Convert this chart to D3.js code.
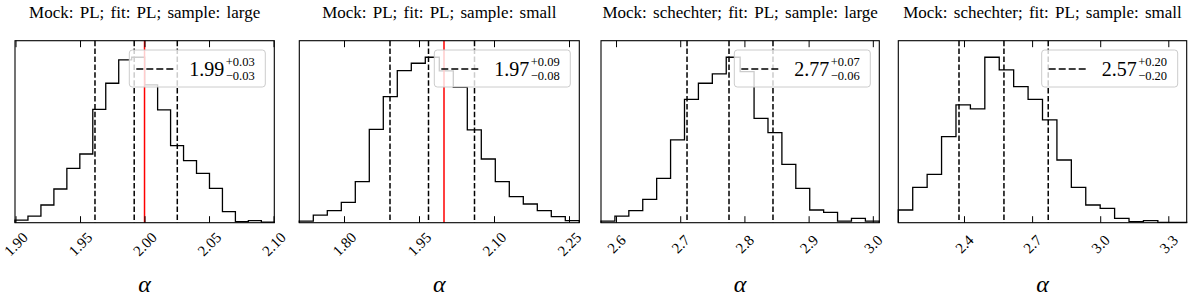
<!DOCTYPE html>
<html>
<head>
<meta charset="utf-8">
<script src="https://cdn.jsdelivr.net/npm/d3@7"></script>
<style>
  html, body { margin: 0; padding: 0; background: #fff; }
  svg { display: block; font-family: 'Liberation Serif', 'Times New Roman', serif; }
</style>
</head>
<body>
<div id="chart"></div>
<script>
// ---- data ----
const titles = [
  'Mock: PL; fit: PL; sample: large',
  'Mock: PL; fit: PL; sample: small',
  'Mock: schechter; fit: PL; sample: large',
  'Mock: schechter; fit: PL; sample: small'
];
// histogram range (20 bins each)
const ranges = [[1.8996, 2.1006], [1.7106, 2.2706], [2.5766, 3.0101], [2.1106, 3.381]];
const countsPLLarge = [8, 20, 53, 101, 163, 206, 340, 418, 488, 496, 413, 338, 231, 186, 148, 103, 33, 3, 6, 2];
const countsPLSmall = [5, 23, 36, 61, 123, 280, 378, 456, 478, 496, 455, 406, 278, 191, 123, 78, 56, 36, 18, 6];
const countsSchLarge = [5, 20, 36, 70, 133, 248, 370, 418, 446, 496, 453, 313, 270, 175, 103, 38, 31, 5, 13, 5];
const countsSchSmall = [38, 106, 145, 258, 353, 341, 496, 458, 408, 370, 308, 188, 106, 53, 43, 13, 3, 6, 1, 1];
const counts = [countsPLLarge, countsPLSmall, countsSchLarge, countsSchSmall];
// 16th / 50th / 84th percentiles
const q16 = [1.9616, 1.892, 2.7106, 2.378];
const q50 = [1.992, 1.969, 2.776, 2.576];
const q84 = [2.0254, 2.061, 2.8445, 2.771];
const truths = [2.0, 2.0, null, null];
const legendMain = ['1.99', '1.97', '2.77', '2.57'];
const legendUp = ['+0.03', '+0.09', '+0.07', '+0.20'];
const legendDown = ['\u22120.03', '\u22120.08', '\u22120.06', '\u22120.20'];
const tickValues = [
  [1.90, 1.95, 2.00, 2.05, 2.10],
  [1.80, 1.95, 2.10, 2.25],
  [2.6, 2.7, 2.8, 2.9, 3.0],
  [2.4, 2.7, 3.0, 3.3]
];
const tickFormats = ['.2f', '.2f', '.1f', '.1f'];

// ---- layout ----
const W = 1200, H = 304;
const boxes = [[15, 274.3], [299.3, 579.3], [601, 879.3], [898.3, 1186.7]];
const plotTop = 40.7, plotBottom = 222.7;
const tickLen = 6.5;

const svg = d3.select('#chart').append('svg')
  .attr('width', W).attr('height', H);

boxes.forEach((b, p) => {
  const [x0, x1] = b;
  const cx = (x0 + x1) / 2;
  const x = d3.scaleLinear().domain(ranges[p]).range([x0, x1]);
  const ymax = 1.1 * d3.max(counts[p]);
  const y = d3.scaleLinear().domain([0, ymax]).range([plotBottom, plotTop]);

  const g = svg.append('g').attr('class', 'panel');

  // step histogram
  const [lo, hi] = ranges[p];
  const n = counts[p].length;
  const edges = d3.range(n + 1).map(i => lo + i * (hi - lo) / n);
  const pts = [[edges[0], 0]];
  counts[p].forEach((c, i) => { pts.push([edges[i], c]); pts.push([edges[i + 1], c]); });
  pts.push([edges[n], 0]);
  g.append('path')
    .attr('d', d3.line().x(d => x(d[0])).y(d => y(d[1]))(pts))
    .attr('fill', 'none').attr('stroke', '#000').attr('stroke-width', 1.3);

  // quantile lines
  [q16[p], q50[p], q84[p]].forEach(q => {
    g.append('line')
      .attr('x1', x(q)).attr('x2', x(q)).attr('y1', plotTop).attr('y2', plotBottom)
      .attr('stroke', '#000').attr('stroke-width', 1.5)
      .attr('stroke-dasharray', '5.5,2.4');
  });
  if (truths[p] != null) {
    g.append('line')
      .attr('x1', x(truths[p])).attr('x2', x(truths[p])).attr('y1', plotTop).attr('y2', plotBottom)
      .attr('stroke', '#ff0000').attr('stroke-width', 1.5);
  }

  // legend
  const lw = 136, lh = 37;
  const lx = x1 - 9 - lw, ly = 50;
  const leg = g.append('g').attr('transform', `translate(${lx},${ly})`);
  leg.append('rect')
    .attr('width', lw).attr('height', lh).attr('rx', 3)
    .attr('fill', '#fff').attr('fill-opacity', 0.8)
    .attr('stroke', '#cccccc').attr('stroke-width', 1);
  leg.append('line')
    .attr('x1', 7).attr('x2', 45).attr('y1', 19).attr('y2', 19)
    .attr('stroke', '#000').attr('stroke-width', 1.5)
    .attr('stroke-dasharray', '7,3');
  // main value, then stacked super/subscript
  const main = leg.append('text').attr('x', 60).attr('y', 26)
    .attr('font-size', 20).text(legendMain[p]);
  const mw = main.node().getComputedTextLength();
  leg.append('text')
    .attr('x', 60 + mw + 1.5).attr('y', 16.3)
    .attr('font-size', 12.5).text(legendUp[p]);
  leg.append('text')
    .attr('x', 60 + mw + 1.5).attr('y', 30.2)
    .attr('font-size', 12.5).text(legendDown[p]);

  // axes: inward ticks top and bottom
  const fmt = d3.format(tickFormats[p]);
  const axB = g.append('g').attr('transform', `translate(0,${plotBottom})`)
    .call(d3.axisBottom(x).tickValues(tickValues[p]).tickFormat(fmt)
      .tickSizeInner(-tickLen).tickSizeOuter(0));
  axB.select('.domain').remove();
  axB.selectAll('.tick line').attr('stroke-width', 1);
  axB.selectAll('.tick text')
    .attr('y', null).attr('dy', null)
    .attr('font-size', 15)
    .attr('font-family', "'Liberation Serif', serif")
    .attr('fill', '#000')
    .attr('text-anchor', 'middle')
    .attr('dominant-baseline', 'central')
    .attr('transform', 'translate(0,21.5) rotate(-45)');

  const axT = g.append('g').attr('transform', `translate(0,${plotTop})`)
    .call(d3.axisTop(x).tickValues(tickValues[p]).tickFormat('')
      .tickSizeInner(-tickLen).tickSizeOuter(0));
  axT.select('.domain').remove();
  axT.selectAll('.tick line').attr('stroke-width', 1);

  // frame
  g.append('rect')
    .attr('x', x0).attr('y', plotTop).attr('width', x1 - x0).attr('height', plotBottom - plotTop)
    .attr('fill', 'none').attr('stroke', '#000').attr('stroke-width', 1.1);

  // title and x label
  g.append('text')
    .attr('x', cx).attr('y', 18.3)
    .attr('text-anchor', 'middle').attr('font-size', 17)
    .attr('word-spacing', 2)
    .text(titles[p]);
  g.append('text')
    .attr('x', cx).attr('y', 292)
    .attr('text-anchor', 'middle').attr('font-size', 24)
    .attr('font-style', 'italic')
    .text('\u03b1');
});
</script>
</body>
</html>
